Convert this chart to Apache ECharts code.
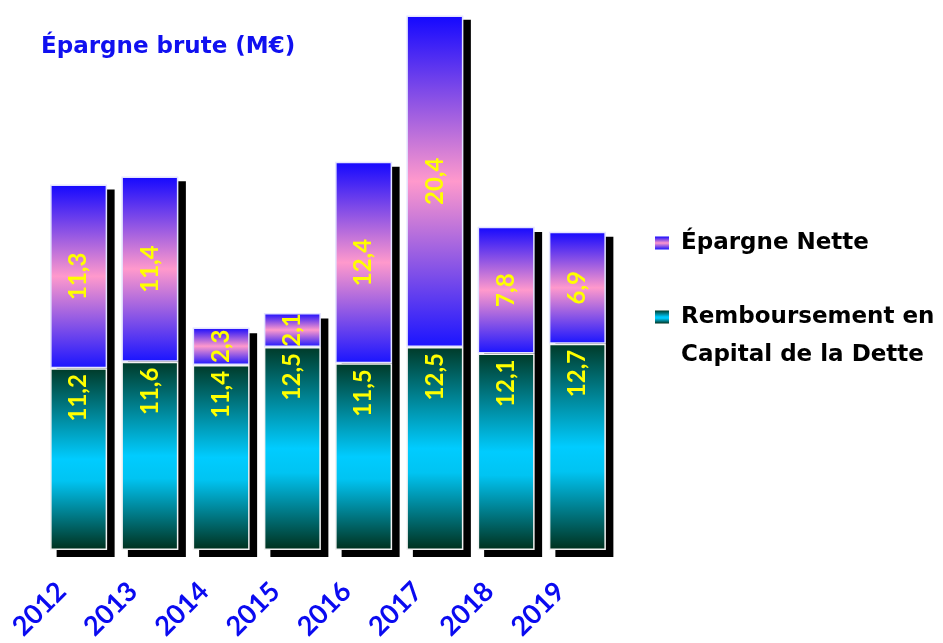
<!DOCTYPE html>
<html>
<head>
<meta charset="utf-8">
<script src="https://cdn.jsdelivr.net/npm/echarts@6/dist/echarts.min.js"></script>
<style>
  html, body { margin: 0; padding: 0; background: #ffffff; }
  #chart { width: 943px; height: 643px; }
</style>
</head>
<body>
<div id="chart"></div>
<script>
// Years on the category axis
var years = ['2012', '2013', '2014', '2015', '2016', '2017', '2018', '2019'];
// Capital repayment of the debt (M€), bottom of each stack
var remboursement = [11.2, 11.6, 11.4, 12.5, 11.5, 12.5, 12.1, 12.7];
// Net savings (M€), top of each stack
var epargneNette = [11.3, 11.4, 2.3, 2.1, 12.4, 20.4, 7.8, 6.9];

// Gross savings = repayment + net savings; used for the drop shadow behind each stack
var epargneBrute = remboursement.map(function (v, i) {
  return Math.round((v + epargneNette[i]) * 10) / 10;
});

var nameNette = 'Épargne Nette';
var nameRemb = 'Remboursement en Capital de la Dette';

var LABEL_FONT = 'Lato, sans-serif';
var TEXT_FONT = 'DejaVu Sans, sans-serif';

function vGrad(stops) {
  return new echarts.graphic.LinearGradient(0, 0, 0, 1,
    stops.map(function (s) { return { offset: s[0], color: s[1] }; }));
}

var tealGrad = vGrad([[0, '#003a28'], [0.5, '#00ccff'], [0.62, '#00c4f2'], [1, '#00301c']]);
var pinkGrad = vGrad([[0, '#1408ff'], [0.5, '#ff99cc'], [1, '#1a14ff']]);

function commaFmt(p) { return String(p.value).replace('.', ','); }

var chart = echarts.init(document.getElementById('chart'), null, { renderer: 'canvas' });

var legendText = { fontFamily: TEXT_FONT, fontSize: 23, fontWeight: 'bold', color: '#000000' };

chart.setOption({
  animation: false,
  backgroundColor: '#ffffff',
  title: {
    text: 'Épargne brute (M€)',
    left: 36,
    top: 31,
    textStyle: { fontFamily: TEXT_FONT, fontSize: 23, fontWeight: 'bold', color: '#1010f0' }
  },
  legend: [
    {
      data: [nameNette],
      left: 655,
      top: 228,
      padding: 0,
      icon: 'rect',
      itemWidth: 14,
      itemHeight: 13,
      itemStyle: { borderWidth: 0, shadowBlur: 0, shadowOffsetX: 0, shadowOffsetY: 0 },
      textStyle: Object.assign({ lineHeight: 30, padding: [0, 0, 0, 7] }, legendText)
    },
    {
      data: [nameRemb],
      left: 655,
      top: 260,
      padding: 0,
      icon: 'rect',
      itemWidth: 14,
      itemHeight: 13,
      itemStyle: { borderWidth: 0, shadowBlur: 0, shadowOffsetX: 0, shadowOffsetY: 0 },
      // blank first line keeps the icon level with "Remboursement en"
      formatter: function () { return ' \nRemboursement en\nCapital de la Dette'; },
      textStyle: Object.assign({ lineHeight: 38, padding: [0, 0, 0, 7] }, legendText)
    }
  ],
  grid: [
    { left: 43, width: 570, top: 14, bottom: 90 },
    // same plot shifted right and down for the shadow bars
    { left: 50, width: 570, top: 18, bottom: 86 }
  ],
  xAxis: [
    {
      type: 'category',
      data: years,
      gridIndex: 0,
      axisLine: { show: false },
      axisTick: { show: false },
      axisLabel: {
        rotate: 45,
        margin: 20,
        padding: [0, 24, 0, 0],
        fontFamily: LABEL_FONT,
        fontSize: 27,
        fontWeight: 'bold',
        color: '#0a0af0'
      }
    },
    { type: 'category', data: years, gridIndex: 1, show: false }
  ],
  yAxis: [
    { type: 'value', gridIndex: 0, min: 0, max: 33, show: false, splitLine: { show: false } },
    { type: 'value', gridIndex: 1, min: 0, max: 33, show: false, splitLine: { show: false } }
  ],
  series: [
    {
      type: 'bar',
      xAxisIndex: 1,
      yAxisIndex: 1,
      data: epargneBrute,
      barWidth: 58,
      z: 1,
      silent: true,
      itemStyle: { color: '#000000' }
    },
    {
      name: nameRemb,
      type: 'bar',
      stack: 'epargne',
      data: remboursement,
      barWidth: 57,
      z: 3,
      itemStyle: { color: tealGrad, borderColor: '#f2f2f2', borderWidth: 1.5 },
      label: {
        show: true,
        position: 'insideTop',
        distance: 6,
        rotate: 90,
        align: 'right',
        verticalAlign: 'middle',
        fontFamily: LABEL_FONT,
        fontSize: 24,
        fontWeight: 'bold',
        color: '#ffff00',
        formatter: commaFmt
      }
    },
    {
      name: nameNette,
      type: 'bar',
      stack: 'epargne',
      data: epargneNette,
      barWidth: 57,
      z: 2,
      itemStyle: { color: pinkGrad, borderColor: '#e4e4ff', borderWidth: 1.5 },
      label: {
        show: true,
        position: 'inside',
        rotate: 90,
        align: 'center',
        verticalAlign: 'middle',
        fontFamily: LABEL_FONT,
        fontSize: 24,
        fontWeight: 'bold',
        color: '#ffff00',
        formatter: commaFmt
      }
    }
  ]
});
</script>
</body>
</html>
